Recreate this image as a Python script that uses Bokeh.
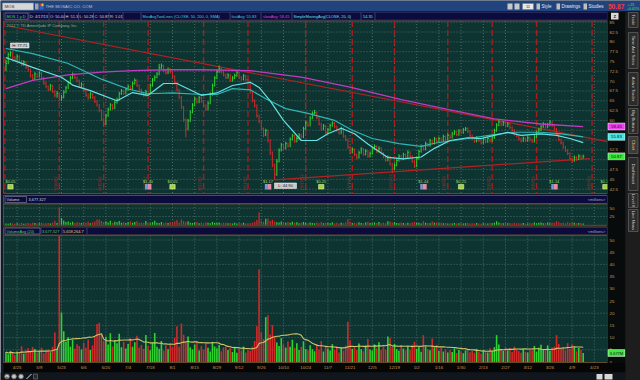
import numpy as np
import pandas as pd
from bokeh.plotting import figure
from bokeh.models import Range1d
from bokeh.core.properties import value
from bokeh.embed import file_html
from bokeh.resources import INLINE

# ---------------- data ----------------
close = [74.5, 76.8, 77.2, 76.0, 75.6, 76.3, 75.0, 74.2, 74.8, 73.5,
         72.9, 71.4, 70.6, 71.8, 71.2, 72.0, 70.8, 69.5, 68.6, 67.9,
         68.8, 67.4, 66.3, 66.9, 65.4, 65.9, 67.2, 68.3, 69.6, 70.8,
         71.7, 70.9, 70.1, 68.7, 69.2, 67.6, 66.4, 65.8, 66.7, 65.9,
         64.8, 63.9, 62.5, 60.4, 59.0, 61.2, 62.8, 63.9, 63.1, 64.6,
         65.3, 66.8, 67.5, 66.9, 67.9, 68.6, 68.1, 69.4, 70.2, 68.9,
         67.8, 67.0, 66.4, 67.3, 66.8, 68.9, 70.3, 71.0, 71.8, 73.4,
         73.9, 72.6, 72.1, 73.0, 72.4, 71.2, 69.6, 67.8, 65.9, 63.4,
         60.2, 57.8, 59.9, 62.1, 63.9, 65.5, 64.7, 65.8, 64.9, 63.8,
         62.9, 64.4, 66.6, 68.9, 70.8, 72.4, 73.2, 72.3, 71.6, 70.9,
         71.5, 70.2, 70.8, 71.4, 72.1, 71.0, 70.5, 71.3, 70.4, 69.8,
         67.2, 65.1, 63.8, 61.2, 59.8, 57.9, 56.3, 57.4, 54.9, 51.8,
         48.7, 46.2, 49.6, 52.4, 53.8, 52.9, 54.1, 53.5, 55.2, 56.1,
         54.7, 55.4, 56.3, 55.8, 57.9, 59.4, 58.8, 60.6, 61.8, 62.0,
         60.7, 59.1, 57.8, 58.6, 56.9, 57.6, 58.7, 59.3, 58.4, 57.5,
         56.8, 57.9, 56.0, 55.1, 53.2, 51.9, 52.6, 51.3, 50.6, 51.8,
         52.7, 51.4, 52.2, 50.9, 51.6, 52.8, 53.4, 52.1, 52.9, 51.7,
         50.8, 49.9, 50.6, 48.9, 47.7, 48.6, 49.8, 50.9, 50.2, 51.3,
         50.7, 51.9, 50.8, 49.6, 48.4, 50.3, 52.1, 53.4, 52.7, 54.1,
         53.6, 54.8, 54.2, 55.3, 54.6, 55.4, 54.8, 55.9, 55.1, 56.2,
         55.7, 56.6, 57.1, 56.4, 57.3, 56.9, 57.6, 58.0, 57.2, 56.1,
         55.4, 54.7, 55.5, 54.9, 54.3, 55.2, 54.6, 55.4, 54.8, 55.6,
         57.4, 58.8, 59.6, 58.9, 59.4, 58.6, 59.1, 58.2, 57.5, 56.6,
         56.1, 55.3, 54.8, 55.4, 54.9, 55.6, 55.1, 54.7, 55.8, 56.9,
         57.6, 58.4, 59.1, 58.3, 58.9, 59.6, 58.7, 57.8, 56.4, 55.1,
         54.3, 53.2, 52.4, 51.6, 50.3, 49.8, 50.6, 50.1, 50.9, 50.4,
         50.87]
high = [75.4, 77.3, 77.7, 77.5, 76.4, 76.8, 76.6, 75.4, 75.3, 75.1,
        73.9, 73.2, 71.8, 72.3, 72.1, 72.5, 72.3, 71.1, 69.9, 68.9,
        69.3, 69.1, 67.7, 67.5, 67.2, 66.5, 67.7, 68.8, 70.1, 71.3,
        72.2, 72.0, 71.2, 70.4, 69.7, 69.5, 67.9, 66.8, 67.2, 67.0,
        66.2, 65.1, 64.2, 62.8, 60.7, 61.7, 63.3, 64.4, 64.2, 65.1,
        65.8, 67.3, 68.0, 67.8, 68.4, 69.1, 68.9, 69.9, 70.7, 70.5,
        69.2, 68.1, 67.3, 67.8, 67.6, 69.4, 70.8, 71.5, 72.3, 74.4,
        74.5, 74.2, 72.9, 73.5, 73.3, 72.7, 71.5, 69.9, 68.1, 66.2,
        63.7, 60.5, 60.4, 62.6, 64.4, 66.0, 65.8, 66.3, 66.1, 65.2,
        64.1, 64.9, 67.1, 69.4, 71.3, 72.9, 74.0, 73.5, 72.6, 71.9,
        72.0, 71.8, 71.3, 71.9, 72.6, 72.4, 71.3, 71.8, 71.6, 70.7,
        70.1, 67.5, 65.4, 64.1, 61.5, 60.1, 58.2, 57.9, 57.7, 55.2,
        52.1, 49.0, 50.2, 52.9, 54.3, 54.1, 54.6, 54.4, 55.7, 56.6,
        56.4, 55.9, 56.8, 56.6, 58.4, 59.9, 59.7, 61.1, 62.3, 62.7,
        62.3, 61.0, 59.4, 59.1, 58.9, 58.1, 59.2, 59.8, 59.6, 58.7,
        57.8, 58.4, 58.2, 56.3, 55.4, 53.5, 53.1, 52.9, 51.6, 52.3,
        53.2, 53.0, 52.7, 52.5, 52.1, 53.3, 53.9, 53.7, 53.4, 53.2,
        52.0, 51.1, 51.1, 50.9, 49.2, 49.1, 50.3, 51.4, 51.2, 51.8,
        51.6, 52.4, 52.2, 51.1, 49.9, 50.8, 52.6, 53.9, 53.7, 54.6,
        54.4, 55.3, 55.1, 55.8, 55.6, 55.9, 55.7, 56.4, 56.2, 56.7,
        56.5, 57.1, 57.6, 57.4, 57.8, 57.6, 58.1, 58.3, 58.2, 57.5,
        56.4, 55.7, 56.0, 55.8, 55.2, 55.7, 55.5, 55.9, 55.7, 56.1,
        57.9, 59.3, 60.3, 59.9, 59.9, 59.7, 59.6, 59.4, 58.5, 57.8,
        56.9, 56.4, 55.6, 55.9, 55.7, 56.1, 55.9, 55.4, 56.3, 57.4,
        58.1, 58.9, 59.6, 59.4, 59.4, 60.1, 59.9, 59.0, 58.1, 56.7,
        55.4, 54.6, 53.5, 52.7, 51.9, 50.6, 51.1, 50.9, 51.4, 51.2,
        51.3]
low = [72.6, 74.3, 76.2, 75.6, 75.1, 75.2, 74.7, 73.8, 73.9, 73.1,
       72.4, 70.9, 70.1, 70.3, 70.8, 70.9, 70.4, 69.1, 68.2, 67.4,
       67.6, 67.0, 65.9, 65.8, 64.9, 65.0, 65.6, 66.9, 68.0, 69.3,
       70.5, 70.5, 69.7, 68.3, 68.4, 67.2, 66.0, 65.3, 65.5, 65.5,
       64.4, 63.5, 62.1, 59.9, 58.3, 58.8, 60.9, 62.5, 62.7, 62.9,
       64.3, 65.0, 66.5, 66.5, 66.6, 67.6, 67.7, 67.8, 69.1, 68.5,
       67.4, 66.6, 66.0, 66.1, 66.4, 66.6, 68.6, 70.0, 70.7, 71.5,
       73.1, 72.2, 71.7, 71.8, 72.0, 70.8, 69.2, 67.4, 65.4, 62.9,
       59.6, 55.7, 57.5, 59.6, 61.8, 63.6, 64.3, 64.4, 64.5, 63.4,
       62.4, 62.6, 64.1, 66.3, 68.6, 70.5, 72.1, 71.9, 71.2, 70.5,
       70.6, 69.8, 69.9, 70.5, 71.1, 70.6, 70.1, 70.2, 70.0, 69.4,
       66.8, 64.6, 63.3, 60.7, 59.3, 57.4, 55.8, 56.0, 54.4, 51.2,
       48.1, 44.9, 45.9, 49.3, 52.1, 52.5, 52.6, 53.1, 53.2, 54.9,
       54.3, 54.4, 55.1, 55.4, 55.5, 57.6, 58.4, 58.5, 60.3, 61.5,
       60.3, 58.7, 57.4, 57.5, 56.5, 56.6, 57.3, 58.4, 58.0, 57.1,
       56.4, 56.5, 55.6, 54.7, 52.8, 51.4, 51.6, 50.9, 50.1, 50.3,
       51.5, 51.0, 51.1, 50.5, 50.6, 51.3, 52.5, 51.7, 51.8, 51.3,
       50.4, 49.5, 49.6, 48.5, 46.6, 47.4, 48.3, 49.5, 49.8, 49.9,
       50.3, 50.4, 50.4, 49.2, 47.9, 48.1, 50.0, 51.8, 52.3, 52.4,
       53.2, 53.3, 53.8, 53.9, 54.2, 54.3, 54.4, 54.5, 54.7, 54.8,
       55.3, 55.4, 56.3, 56.0, 56.1, 56.5, 56.6, 57.3, 56.8, 55.7,
       55.0, 54.3, 54.4, 54.5, 53.9, 54.0, 54.2, 54.3, 54.4, 54.5,
       55.3, 57.1, 58.5, 58.5, 58.6, 58.2, 58.3, 57.8, 57.1, 56.2,
       55.7, 54.9, 54.4, 54.5, 54.5, 54.6, 54.7, 54.3, 54.4, 55.5,
       56.6, 57.3, 58.1, 57.9, 58.0, 58.6, 58.3, 57.4, 56.0, 54.7,
       53.9, 52.8, 52.0, 51.2, 49.9, 49.3, 49.5, 49.7, 49.9, 50.0,
       50.28]
# volume in millions of shares
volume = [4.1, 3.2, 4.5, 3.6, 2.9, 4.3, 3.8, 6.5, 3.4, 4.8,
          5.6, 4.2, 6.1, 5.3, 3.9, 4.7, 5.8, 3.6, 4.4, 5.1,
          4.0, 6.3, 12.1, 5.2, 52.0, 20.3, 12.6, 8.4, 10.1, 6.2,
          9.0, 5.4, 7.3, 6.6, 5.1, 7.9, 5.8, 9.2, 4.9, 6.8,
          10.2, 15.6, 16.1, 11.4, 8.7, 10.3, 7.2, 11.8, 6.4, 8.9,
          7.7, 11.6, 6.0, 8.3, 5.5, 7.4, 9.6, 6.3, 8.1, 10.8,
          5.9, 7.0, 5.3, 11.1, 6.7, 4.8, 7.9, 11.9, 6.2, 5.4,
          8.6, 4.6, 6.9, 5.2, 7.3, 6.1, 9.8, 14.7, 6.3, 15.8,
          11.2, 8.4, 10.5, 6.0, 5.1, 7.2, 8.2, 4.7, 6.6, 5.0,
          7.5, 5.8, 4.3, 8.1, 6.4, 5.6, 7.0, 4.4, 5.9, 6.3,
          4.9, 5.7, 4.1, 6.2, 3.8, 5.3, 4.6, 6.4, 3.9, 5.0,
          4.5, 6.3, 8.6, 14.7, 38.0, 12.2, 9.4, 18.4, 19.2, 11.3,
          15.1, 10.2, 8.0, 6.6, 9.8, 7.1, 5.9, 8.4, 6.3, 9.1,
          5.8, 7.7, 4.9, 6.2, 8.5, 5.3, 4.8, 6.9, 5.2, 4.4,
          7.2, 5.0, 8.6, 4.3, 6.1, 5.5, 4.7, 7.3, 5.0, 6.4,
          3.9, 5.8, 4.6, 6.7, 16.5, 8.9, 5.4, 6.1, 4.9, 7.6,
          5.2, 4.4, 6.8, 9.4, 5.1, 4.7, 7.2, 5.6, 8.1, 4.9,
          6.3, 5.0, 10.5, 9.8, 6.2, 7.4, 5.3, 4.6, 6.9, 5.5,
          4.8, 6.2, 5.0, 7.1, 8.3, 5.4, 6.5, 4.2, 11.0, 6.3,
          5.2, 4.8, 9.6, 5.9, 7.0, 4.5, 5.8, 4.3, 5.1, 3.9,
          4.8, 4.1, 5.6, 3.7, 4.9, 4.4, 3.6, 4.8, 5.2, 4.0,
          4.6, 3.8, 5.4, 4.2, 3.5, 4.9, 4.3, 3.9, 5.6, 4.5,
          6.1, 11.0, 7.2, 5.3, 4.6, 6.0, 4.8, 5.7, 4.1, 6.3,
          5.0, 4.4, 3.8, 5.5, 4.2, 3.9, 5.1, 4.7, 6.6, 4.3,
          5.8, 7.1, 4.9, 5.4, 6.8, 4.6, 5.9, 6.3, 11.0, 7.4,
          5.6, 6.2, 4.8, 7.7, 5.3, 7.2, 6.0, 4.4, 5.7, 4.9,
          3.68]

date_ticks = list(range(5, 266, 10))
date_labels = ["4/25", "5/9", "5/23", "6/6", "6/20", "7/4", "7/18", "8/1", "8/15",
               "8/29", "9/12", "9/26", "10/10", "10/24", "11/7", "11/21", "12/5",
               "12/19", "1/2", "1/16", "1/30", "2/13", "2/27", "3/12", "3/26",
               "4/9", "4/23"]
price_ticks = [85, 82.5, 80, 77.5, 75, 72.5, 70, 67.5, 65, 62.5, 60, 57.5, 55,
               52.5, 50, 47.5, 45, 42.5]
vol_small_ticks = [25, 50]
vol_big_ticks = [0, 5, 10, 15, 20, 25, 30, 35, 40, 45, 50]

# moving averages (bar index, value)
sma20_idx = [0, 12, 25, 30, 38, 50, 57, 64, 71, 77, 88, 95, 102, 110, 114, 119, 125,
             133, 140, 145, 151, 157, 163, 172, 179, 187, 193, 200, 208, 214, 220,
             226, 232, 241, 248, 254, 260]
sma20_val = [76.0, 73.5, 71.0, 69.0, 67.6, 65.0, 67.1, 66.4, 69.4, 69.4, 66.4, 67.0,
             68.9, 69.7, 68.4, 65.0, 60.0, 54.9, 54.9, 56.6, 58.0, 56.6, 54.0, 50.6,
             50.2, 50.7, 52.9, 54.9, 55.6, 55.4, 56.2, 57.0, 56.2, 56.6, 56.2, 55.4,
             54.35]
sma50_idx = [0, 12, 28, 43, 55, 64, 75, 88, 95, 102, 110, 117, 126, 136, 148, 156,
             165, 177, 187, 193, 208, 220, 229, 241, 250, 260]
sma50_val = [78.3, 77.0, 74.5, 70.5, 68.0, 66.8, 67.0, 66.6, 66.6, 68.1, 67.8, 65.5,
             63.0, 61.8, 60.0, 57.5, 55.4, 54.1, 53.4, 54.2, 55.4, 56.4, 57.0, 57.0,
             56.6, 55.83]
sma200_idx = [0, 12, 28, 43, 57, 73, 88, 110, 133, 155, 178, 199, 220, 241, 260]
sma200_val = [68.1, 70.2, 71.6, 72.3, 72.7, 72.9, 72.9, 72.7, 71.0, 68.5, 65.3, 62.8,
              60.4, 59.1, 58.45]

# user drawn trend lines (bar index, price)
trend_down_idx = [2, 271]
trend_down_val = [83.9, 54.6]
trend_up_idx = [121, 263]
trend_up_val = [44.9, 50.3]

# option-expiration markers
exp_idx = [-0.5, 24, 44, 64, 89, 109, 135, 156, 175, 199, 219, 239, 264]
exp_labels = ["4/20/12", "5/18/12", "6/15/12", "7/20/12", "8/17/12", "9/21/12",
              "10/19/12", "11/16/12", "12/21/12", "1/18/13", "2/15/13", "3/15/13",
              "4/19/13"]
# corporate events: (bar index, kind, label)
event_idx = [2, 64, 75, 118, 142, 188, 205, 247, 270]
event_kind = ["div", "earn", "div", "earn", "div", "earn", "div", "earn", "div"]
event_text = ["$0.05", "$1.40", "$0.05", "$1.17", "$0.25", "$1.44", "$0.25", "$1.14", "$0.25"]

last_price = 50.87
fast_last = 55.83
slow_last = 58.45
vol_last = 3.68

# ---------------- layout constants (pixels) ----------------
X0PX, XSTEP = 5.5, 2.22
P_REF, P_REF_PX, P_SCALE = 85.0, 21.7, 3.93
V1_ZERO, V1_SCALE = 224.3, 0.333
V2_ZERO, V2_SCALE = 361.5, 2.44
LEFT, RIGHT = 3, 607
MAIN_T, MAIN_B = 20.5, 193
V1_T, V1_B = 203.5, 224.8
V2_T, V2_B = 235, 362

FONT = value("Liberation Sans")
PANEL = "#0e3432"
GRIDC = "#4b6d63"
BORDER = "#5e4c28"
NAVY = "#0b0b3e"
TAN = "#c99b55"
GREEN = "#2fd22f"
RED = "#d02a2a"

n = min(len(close), len(high), len(low), len(volume))
idx = np.arange(n)
c = np.array(close[:n]); h = np.array(high[:n]); l = np.array(low[:n])
vol = np.array(volume[:n])
up = np.concatenate([[True], c[1:] >= c[:-1]])
colors = [GREEN if u else RED for u in up]
vavg = pd.Series(vol).rolling(20, min_periods=1).mean().values

p = figure(width=640, height=380, output_backend="svg", toolbar_location=None,
           x_range=Range1d(-X0PX / XSTEP, (640 - X0PX) / XSTEP),
           y_range=Range1d(P_REF - (380 - P_REF_PX) / P_SCALE, P_REF + P_REF_PX / P_SCALE),
           x_axis_location=None, y_axis_location=None, min_border=0,
           background_fill_color="#121a2a", border_fill_color="#121a2a")
p.outline_line_color = None
p.grid.visible = False
p.extra_x_ranges = {"px": Range1d(0, 640)}
p.extra_y_ranges = {"py": Range1d(380, 0),
                    "v1": Range1d(-(380 - V1_ZERO) / V1_SCALE, V1_ZERO / V1_SCALE),
                    "v2": Range1d(-(380 - V2_ZERO) / V2_SCALE, V2_ZERO / V2_SCALE)}


def Q(l_, r_, t_, b_, fill, line=None, xr="px", yr="py", lw=1):
    p.quad(left=[l_], right=[r_], top=[t_], bottom=[b_], fill_color=fill,
           line_color=line, line_width=lw, x_range_name=xr, y_range_name=yr)


def T(x, y, s, color, size=5, align="left", baseline="middle", angle=0.0,
      xr="px", yr="py", bold=False):
    xs = x if isinstance(x, (list, np.ndarray)) else [x]
    ys = y if isinstance(y, (list, np.ndarray)) else [y]
    ss = s if isinstance(s, list) else [s]
    p.text(x=list(xs), y=list(ys), text=ss, text_color=color, text_font=FONT,
           text_font_size=f"{size}px", text_align=align, text_baseline=baseline,
           angle=angle, text_font_style="bold" if bold else "normal",
           x_range_name=xr, y_range_name=yr)


# ---------------- panels ----------------
Q(LEFT, RIGHT, MAIN_T, MAIN_B, PANEL, BORDER)
Q(LEFT, RIGHT, V1_T, V1_B, PANEL, BORDER)
Q(LEFT, RIGHT, V2_T, V2_B, PANEL, BORDER)

# grids
p.segment(x0=[LEFT] * len(price_ticks), x1=[RIGHT] * len(price_ticks),
          y0=price_ticks, y1=price_ticks, line_color=GRIDC, line_dash="1 2",
          line_width=1, x_range_name="px")
for (t_, b_) in [(MAIN_T, MAIN_B), (V1_T, V1_B), (V2_T, V2_B)]:
    p.segment(x0=date_ticks, x1=date_ticks, y0=[t_] * len(date_ticks),
              y1=[b_] * len(date_ticks), line_color=GRIDC, line_dash="1 2",
              line_width=1, y_range_name="py")
p.segment(x0=[LEFT] * 2, x1=[RIGHT] * 2, y0=vol_small_ticks, y1=vol_small_ticks,
          line_color=GRIDC, line_dash="1 2", x_range_name="px", y_range_name="v1")
p.segment(x0=[LEFT] * 10, x1=[RIGHT] * 10, y0=vol_big_ticks[1:], y1=vol_big_ticks[1:],
          line_color=GRIDC, line_dash="1 2", x_range_name="px", y_range_name="v2")

# expiration markers
p.segment(x0=exp_idx, x1=exp_idx, y0=[MAIN_T] * len(exp_idx), y1=[MAIN_B] * len(exp_idx),
          line_color="#a51d1d", line_width=1.4, line_dash="6 3", y_range_name="py")
T([e - 0.6 for e in exp_idx[1:]], [190] * (len(exp_idx) - 1), exp_labels[1:], "#b52323",
  size=4.2, angle=np.pi / 2, baseline="bottom", xr="default")

# trend lines
p.line(trend_down_idx, trend_down_val, line_color="#b32222", line_width=1.2)
p.line(trend_up_idx, trend_up_val, line_color="#b32222", line_width=1.2)

# price bars
p.segment(x0=idx, x1=idx, y0=l, y1=h, line_color=colors, line_width=1)
p.segment(x0=idx, x1=idx + 0.5, y0=c, y1=c, line_color=colors, line_width=1)

# moving averages
p.line(sma200_idx, sma200_val, line_color="#c23ac2", line_width=1.3)
p.line(sma50_idx, sma50_val, line_color="#2bb7b3", line_width=1.2)
p.line(sma20_idx, sma20_val, line_color="#62e2e2", line_width=1.2)

# events
for ei, ek, et in zip(event_idx, event_kind, event_text):
    if ek == "div":
        p.quad(left=[ei - 1.2], right=[ei + 1.2], top=[184], bottom=[188.5],
               fill_color="#9bd54a", line_color="#e8f0a0", line_width=0.6,
               y_range_name="py")
    else:
        p.quad(left=[ei - 1.4], right=[ei - 0.3], top=[183.5], bottom=[189],
               fill_color="#6e9bd8", line_color=None, y_range_name="py")
        p.quad(left=[ei - 0.3], right=[ei + 1.5], top=[183.5], bottom=[189],
               fill_color="#e68aa8", line_color=None, y_range_name="py")
T(event_idx, [180.5] * len(event_idx), event_text, "#8fdc6a", size=4, align="center",
  xr="default")

# high / low bubbles
Q(10, 28.5, 42.5, 47.5, "#c9c9c9", "#ffffff", lw=0.5)
T(19.2, 45.2, "H: 77.71", "#202020", size=4, align="center")
Q(274, 296, 182.5, 188, "#c9c9c9", "#ffffff", lw=0.5)
T(285, 185.4, "L: 44.90", "#202020", size=4, align="center")
T(6, 24.5, "2012 \u00a9 TD Ameritrade IP Company, Inc.", "#9aa6a0", size=4)

# volume bars
p.vbar(x=idx, top=vol, bottom=0, width=0.55, fill_color=colors, line_color=None,
       y_range_name="v1")
p.vbar(x=idx, top=vol, bottom=0, width=0.72, fill_color=colors, line_color=None,
       y_range_name="v2")
p.line(idx, vavg, line_color="#cfc66a", line_width=1.1, y_range_name="v2")

# ---------------- header bars ----------------
Q(0, 640, 0, 11, "#22447e")
Q(0, 640, 10.5, 11.5, "#0a1a3a")
Q(LEFT, RIGHT, 11.8, 19.6, NAVY, "#44447a", lw=0.6)
Q(LEFT, RIGHT, 195, 203, NAVY, BORDER)
Q(LEFT, RIGHT, 226.5, 234.5, NAVY, BORDER)

# title bar content
Q(2, 33, 2.5, 9.5, "#d6d6d6", "#888888", lw=0.5)
T(4, 6.2, "MOS", "#333333", size=4.3)
Q(34.5, 38, 3, 9, "#9aa4b4")
Q(39, 41, 3, 6, "#e03030"); Q(41, 43, 3, 6, "#e0d030"); Q(39, 43, 6, 9, "#3060e0")
T(45, 6.2, "THE MOSAIC CO. COM", "#b7c0cc", size=4.3)
Q(507, 512, 3, 9, "#c8c8c8"); Q(514, 519, 3, 9, "#c8c8c8")
Q(522, 533, 3, 9, "#e8e8e8", "#777777", lw=0.5)
T(527.5, 6.2, "11", "#333333", size=4, align="center")
T(541, 6.2, "Style", "#e6e6e6", size=4.5)
T(561, 6.2, "Drawings", "#e6e6e6", size=4.5)
T(588, 6.2, "Studies", "#e6e6e6", size=4.5)
Q(536, 539.5, 3, 9, "#bfbfbf"); Q(556, 559.5, 3, 9, "#bfbfbf"); Q(583, 586.5, 3, 9, "#bfbfbf")
T(607.5, 6.2, "50.87", "#ff3535", size=6.5, bold=True)
T(627, 3.5, "+.31", "#3fe03f", size=3.6)
T(626.5, 8.2, "+0.61%", "#3fe03f", size=3.6)

# info bar content
info = [("D: 4/17/13", 29.5, "#d6d6d6"), ("O: 50.44", 49.5, "#d6d6d6"),
        ("H: 51.3", 65, "#d6d6d6"), ("L: 50.28", 79, "#d6d6d6"),
        ("C: 50.87", 94, "#d6d6d6"), ("R: 1.01", 109.5, "#d6d6d6"),
        ("MovAvgTwoLines (CLOSE, 50, 200, 0, SMA)", 142, "#3fd0cf"),
        ("fastAvg: 55.83", 231, "#3fd0cf"), ("slowAvg: 58.45", 262.5, "#d647d6"),
        ("SimpleMovingAvg(CLOSE, 20, 0)", 293, "#62e2e2"), ("54.35", 362.5, "#62e2e2")]
Q(4.5, 27.5, 12.6, 18.8, "#0b0b3e", "#8a8a9a", lw=0.6)
T(6, 15.8, "MOS 1 y D", "#3fe03f", size=3.9)
for s, x, col in info:
    T(x, 15.8, s, col, size=3.9)
p.segment(x0=[28.5, 48.5, 64, 78, 93, 108.5, 122.5, 140.5, 229.5, 260.5, 291.5, 360.5, 374.5],
          x1=[28.5, 48.5, 64, 78, 93, 108.5, 122.5, 140.5, 229.5, 260.5, 291.5, 360.5, 374.5],
          y0=[12] * 13, y1=[19.4] * 13, line_color="#5a5a8a", line_width=0.6,
          x_range_name="px", y_range_name="py")

# volume headers
Q(4.5, 26, 196, 202, NAVY, "#8a8a9a", lw=0.6)
T(6, 199.2, "Volume", "#d6d6d6", size=3.9)
T(28, 199.2, "3,677,327", "#d6d6d6", size=3.9)
T(596, 199.2, "<millions>", "#a6a6c6", size=3.9, align="center")
Q(4.5, 39.5, 227.5, 233.5, NAVY, "#8a8a9a", lw=0.6)
T(6, 230.7, "VolumeAvg (20)", "#52d252", size=3.9)
T(41.5, 230.7, "3,677,327", "#52d252", size=3.9)
T(62.5, 230.7, "5,659,264.7", "#e0d86a", size=3.9)
T(596, 230.7, "<millions>", "#a6a6c6", size=3.9, align="center")
p.segment(x0=[40.5, 61.5, 86.5], x1=[40.5, 61.5, 86.5], y0=[227.5] * 3, y1=[233.5] * 3,
          line_color="#5a5a8a", line_width=0.6, x_range_name="px", y_range_name="py")

# ---------------- right axis strip ----------------
Q(RIGHT, 625, 11.5, 372, "#070b0b")
Q(610.5, 618, 12.3, 19, "#d8d8d8")
T(614.2, 15.8, "Z", "#222222", size=4.2, align="center", bold=True)
boxes = [last_price, fast_last, slow_last]
shown = [t for t in price_ticks if all(abs(t - b) > 1.3 for b in boxes)]
T([609] * len(shown), shown, [f"{t:g}" for t in shown], TAN, size=4.4, xr="px", yr="default")
p.rect(x=[616, 616, 616], y=[slow_last, fast_last, last_price], width=[17, 17, 17],
       height=[1.75, 1.75, 1.75], fill_color=["#ef3fef", "#4ae6e6", "#3ee83e"],
       line_color="#ffffff", line_width=0.5, x_range_name="px")
T([616] * 3, [slow_last, fast_last, last_price], ["58.45", "55.83", "50.87"], "#101010",
  size=4.3, align="center", xr="px", yr="default")
T([609] * 2, vol_small_ticks, ["25", "50"], TAN, size=4.4, yr="v1")
T([609] * len(vol_big_ticks), vol_big_ticks, [str(v) for v in vol_big_ticks], TAN, size=4.4,
  yr="v2")
p.rect(x=[616], y=[vol_last], width=[17], height=[2.8], fill_color="#3ee83e",
       line_color="#ffffff", line_width=0.5, x_range_name="px", y_range_name="v2")
T(616, vol_last, "3.677M", "#101010", size=4, align="center", yr="v2")

# ---------------- date axis + bottom toolbar ----------------
Q(LEFT, 625, 362.5, 372, "#060606")
T(date_ticks, [367.2] * len(date_ticks), date_labels, TAN, size=4.4, align="center",
  xr="default")
Q(0, 640, 372, 380, "#11161c")
for bx in [4, 11, 18]:
    p.circle(x=[bx + 2.5], y=[376], radius=2.3, fill_color="#c8c8c8", line_color="#7a7a7a",
             x_range_name="px", y_range_name="py")
T(4.8, 376, "+", "#303030", size=5)
p.segment(x0=[26], x1=[31], y0=[378.5], y1=[373.5], line_color="#d8d8d8",
          x_range_name="px", y_range_name="py")
Q(33, 37, 373.5, 378.5, "#2a2a2a", "#888888", lw=0.5)
Q(596, 602, 373.5, 379, "#d8d8d8"); Q(604, 612, 373.5, 379, "#d8d8d8")

# ---------------- side tabs ----------------
Q(625, 640, 11.5, 380, "#1d1d1d")
tabs = [(12, 27, "Trade"), (32, 68, "Time And Sales"), (72, 105, "Active Trader"),
        (108, 133, "Big Buttons"), (136, 153, "Chart"), (157, 190, "Dashboard"),
        (193, 207, "Level II"), (209, 231, "Live News")]
for (y0, y1, name) in tabs:
    hl = name == "Chart"
    Q(628, 637.5, y0, y1, "#3a3a3a" if hl else "#2b2b2b", "#707070", lw=0.6)
    T(632.8, (y0 + y1) / 2, name, "#e6c860" if hl else "#cfcfcf", size=4.2,
      align="center", angle=-np.pi / 2)

open("out.html", "w").write(file_html(p, INLINE))
